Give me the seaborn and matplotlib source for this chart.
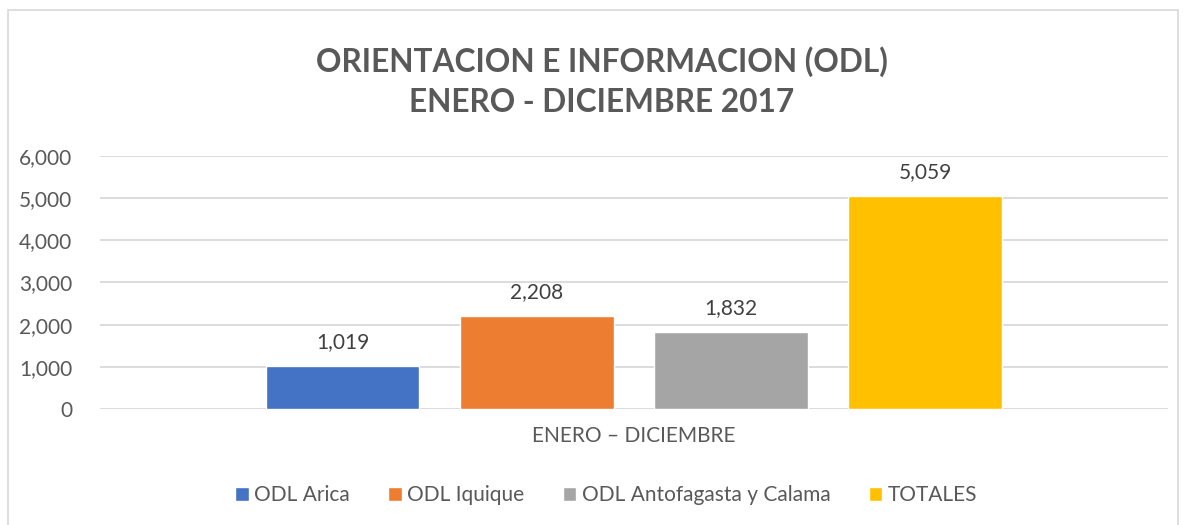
import matplotlib
matplotlib.use('Agg')
import matplotlib.pyplot as plt
import seaborn as sns
import pandas as pd
from matplotlib.patches import Rectangle

# data
category = ['ENERO – DICIEMBRE']
series = ['ODL Arica', 'ODL Iquique', 'ODL Antofagasta y Calama', 'TOTALES']
values = [1019, 2208, 1832, 5059]
colors = ['#4472C4', '#ED7D31', '#A5A5A5', '#FFC000']
y_ticks = [0, 1000, 2000, 3000, 4000, 5000, 6000]

df = pd.DataFrame({'periodo': category * len(series), 'oficina': series, 'valor': values})

sns.set_style('white')
plt.rcParams['font.family'] = ['Lato', 'DejaVu Sans']
text_gray = '#595959'

fig = plt.figure(figsize=(11.87, 5.25), dpi=100)
ax = fig.add_axes([0.0842, 0.221, 0.8998, 0.482])

sns.barplot(data=df, x='periodo', y='valor', hue='oficina', hue_order=series,
            palette=colors, width=0.727, gap=0.21, saturation=1, ax=ax)

for cont in ax.containers:
    ax.bar_label(cont, labels=[f'{v:,.0f}' for v in cont.datavalues],
                 padding=10, fontsize=15, color='#404040')

ax.set_ylim(0, 6000)
ax.set_xlim(-0.5, 0.5)
ax.set_yticks(y_ticks)
ax.set_yticklabels([f'{t:,}' for t in y_ticks], fontsize=15, color=text_gray)
ax.yaxis.grid(True, color='#D9D9D9', linewidth=1.3)
ax.set_axisbelow(True)
ax.tick_params(axis='y', length=0, pad=20)
ax.tick_params(axis='x', length=0, pad=12, labelsize=15, labelcolor=text_gray)
ax.set_xlabel('')
ax.set_ylabel('')
for s in ax.spines.values():
    s.set_visible(False)

ax.legend(loc='center', bbox_to_anchor=(0.474, -0.34), ncol=4, frameon=False,
          fontsize=15, labelcolor=text_gray, handlelength=0.65, handleheight=0.65,
          handletextpad=0.25, columnspacing=1.85)

fig.text(0.507, 0.882, 'ORIENTACION E INFORMACION (ODL)', ha='center', va='center',
         fontsize=22.8, fontweight='bold', color=text_gray)
fig.text(0.507, 0.805, 'ENERO - DICIEMBRE 2017', ha='center', va='center',
         fontsize=22.8, fontweight='bold', color=text_gray)

fig.patches.append(Rectangle((8 / 1187, -0.01), 1170 / 1187, 1 - 10 / 525 + 0.01,
                             transform=fig.transFigure, fill=False,
                             edgecolor='#D9D9D9', linewidth=1.2))

fig.savefig('out.png', dpi=100)
